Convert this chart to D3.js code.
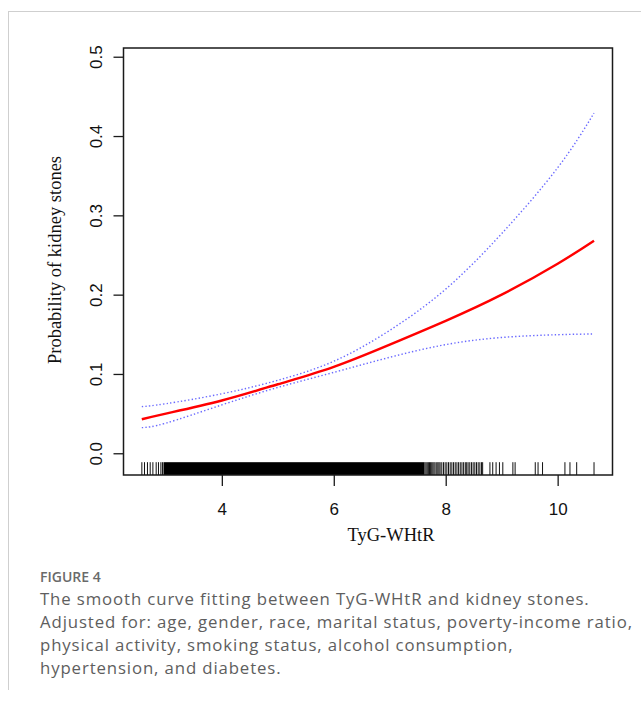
<!DOCTYPE html>
<html>
<head>
<meta charset="utf-8">
<script src="https://cdn.jsdelivr.net/npm/d3@7"></script>
<style>
  html, body { margin: 0; padding: 0; background: #fff; }
  svg { display: block; }
</style>
</head>
<body>
<svg id="chart" width="641" height="703"></svg>
<script>
// ---- data ----
const xSample   = [2.57, 3, 4, 5, 6, 7, 8, 9, 10, 10.65];
const fitValues = [0.0429, 0.050, 0.0665, 0.087, 0.109, 0.137, 0.167, 0.200, 0.239, 0.268];
const upperCI   = [0.0588, 0.0625, 0.075, 0.092, 0.116, 0.155, 0.207, 0.277, 0.360, 0.429];
const lowerCI   = [0.0323, 0.038, 0.061, 0.083, 0.102, 0.121, 0.137, 0.146, 0.1495, 0.1504];
// observations too dense to separate (solid rug band)
const rugDenseBand = [2.957, 7.62];
// individually visible rug ticks
const rugTicks = [2.571, 2.618, 2.671, 2.720, 2.768, 2.827, 2.868, 2.911, 2.939,
  7.63, 7.65, 7.67, 7.69, 7.71, 7.73, 7.75, 7.77, 7.79, 7.81, 7.84, 7.86, 7.88, 7.90, 7.93, 7.96,
  7.99, 8.02, 8.05, 8.08, 8.11, 8.14, 8.17, 8.20, 8.23, 8.26, 8.29, 8.32, 8.35, 8.375, 8.40,
  8.43, 8.46, 8.49, 8.52, 8.55, 8.58, 8.61, 8.64, 8.66,
  8.79, 8.84, 8.90, 8.96, 9.02, 9.20, 9.24, 9.60, 9.65, 9.73, 10.13, 10.22, 10.34, 10.65];
const xTicks = [4, 6, 8, 10];
const yTicks = [0.0, 0.1, 0.2, 0.3, 0.4, 0.5];
const xTitle = "TyG-WHtR";
const yTitle = "Probability of kidney stones";
const figLabel = "FIGURE 4";
const captionLines = [
  "The smooth curve fitting between TyG-WHtR and kidney stones.",
  "Adjusted for: age, gender, race, marital status, poverty-income ratio,",
  "physical activity, smoking status, alcohol consumption,",
  "hypertension, and diabetes."
];

// ---- layout ----
const svg = d3.select("#chart");
const plot = { left: 123.5, right: 612.5, top: 48, bottom: 475 };

const x = d3.scaleLinear().domain([2.243, 10.98]).range([plot.left, plot.right]);
const y = d3.scaleLinear().domain([-0.0274, 0.511]).range([plot.bottom, plot.top]);

// frame lines of the page
svg.append("line").attr("x1", 8).attr("x2", 641).attr("y1", 11.5).attr("y2", 11.5)
  .attr("stroke", "#cfcfcf").attr("stroke-width", 1);
svg.append("line").attr("x1", 8.5).attr("x2", 8.5).attr("y1", 11.5).attr("y2", 690)
  .attr("stroke", "#cfcfcf").attr("stroke-width", 1);

// rug
const rugH = 0.03 * (plot.bottom - plot.top);
const rug = svg.append("g");
rug.append("rect")
  .attr("x", x(rugDenseBand[0])).attr("width", x(rugDenseBand[1]) - x(rugDenseBand[0]))
  .attr("y", plot.bottom - rugH).attr("height", rugH).attr("fill", "#000");
rug.selectAll("line").data(rugTicks).join("line")
  .attr("x1", d => x(d)).attr("x2", d => x(d))
  .attr("y1", plot.bottom - rugH).attr("y2", plot.bottom)
  .attr("stroke", "#111").attr("stroke-width", 1);

// curves
const pts = arr => xSample.map((v, i) => [v, arr[i]]);
const line = d3.line().x(d => x(d[0])).y(d => y(d[1])).curve(d3.curveNatural);
svg.append("path").attr("d", line(pts(upperCI))).attr("fill", "none")
  .attr("stroke", "#6a6aff").attr("stroke-width", 1.4).attr("stroke-dasharray", "1.4,2.2");
svg.append("path").attr("d", line(pts(lowerCI))).attr("fill", "none")
  .attr("stroke", "#6a6aff").attr("stroke-width", 1.4).attr("stroke-dasharray", "1.4,2.2");
svg.append("path").attr("d", line(pts(fitValues))).attr("fill", "none")
  .attr("stroke", "#ff0000").attr("stroke-width", 2.4);

// box
svg.append("rect").attr("x", plot.left).attr("y", plot.top)
  .attr("width", plot.right - plot.left).attr("height", plot.bottom - plot.top)
  .attr("fill", "none").attr("stroke", "#1a1a1a").attr("stroke-width", 1.5);

// x axis
const xAxis = d3.axisBottom(x).tickValues(xTicks).tickSize(11).tickPadding(0).tickFormat(d3.format("d"));
const gx = svg.append("g").attr("transform", `translate(0,${plot.bottom})`).call(xAxis);
gx.select(".domain").remove();
gx.selectAll(".tick line").attr("stroke", "#1a1a1a").attr("stroke-width", 1.3);
gx.selectAll(".tick text").attr("font-family", "'Liberation Sans', Arial, sans-serif")
  .attr("font-size", 17).attr("fill", "#111").attr("dy", null).attr("y", 40);

// y axis
const yAxis = d3.axisLeft(y).tickValues(yTicks).tickSize(10).tickFormat(d3.format(".1f"));
const gy = svg.append("g").attr("transform", `translate(${plot.left},0)`).call(yAxis);
gy.select(".domain").remove();
gy.selectAll(".tick line").attr("stroke", "#1a1a1a").attr("stroke-width", 1.3);
gy.selectAll(".tick text").attr("font-family", "'Liberation Sans', Arial, sans-serif")
  .attr("font-size", 17).attr("fill", "#111")
  .attr("x", null).attr("dy", null).attr("y", null)
  .attr("text-anchor", "middle")
  .attr("transform", "translate(-22,0) rotate(-90)");

// axis titles
svg.append("text").attr("x", 391).attr("y", 541).attr("text-anchor", "middle")
  .attr("font-family", "'Liberation Serif', 'Times New Roman', serif").attr("font-size", 18.5)
  .attr("fill", "#111").text(xTitle);
svg.append("text").attr("transform", "translate(61,260) rotate(-90)").attr("text-anchor", "middle")
  .attr("font-family", "'Liberation Serif', 'Times New Roman', serif").attr("font-size", 18.5)
  .attr("fill", "#111").text(yTitle);

// caption
svg.append("text").attr("x", 40).attr("y", 582)
  .attr("font-family", "'Open Sans', 'Noto Sans', sans-serif").attr("font-size", 14)
  .attr("font-weight", 600).attr("fill", "#6a6a6a").text(figLabel);
const cap = svg.append("g");
const capTexts = cap.selectAll("text").data(captionLines).join("text")
  .attr("x", 40).attr("y", (d, i) => 605 + i * 23)
  .attr("font-family", "'Open Sans', 'Noto Sans', sans-serif").attr("font-size", 16.8)
  .attr("fill", "#5e5e5e").text(d => d);
// uniform letter spacing so the longest line spans the reference width
const w = capTexts.nodes()[1].getComputedTextLength();
const ls = (592 - w) / (captionLines[1].length - 1);
capTexts.attr("letter-spacing", Math.max(0, ls));
</script>
</body>
</html>
